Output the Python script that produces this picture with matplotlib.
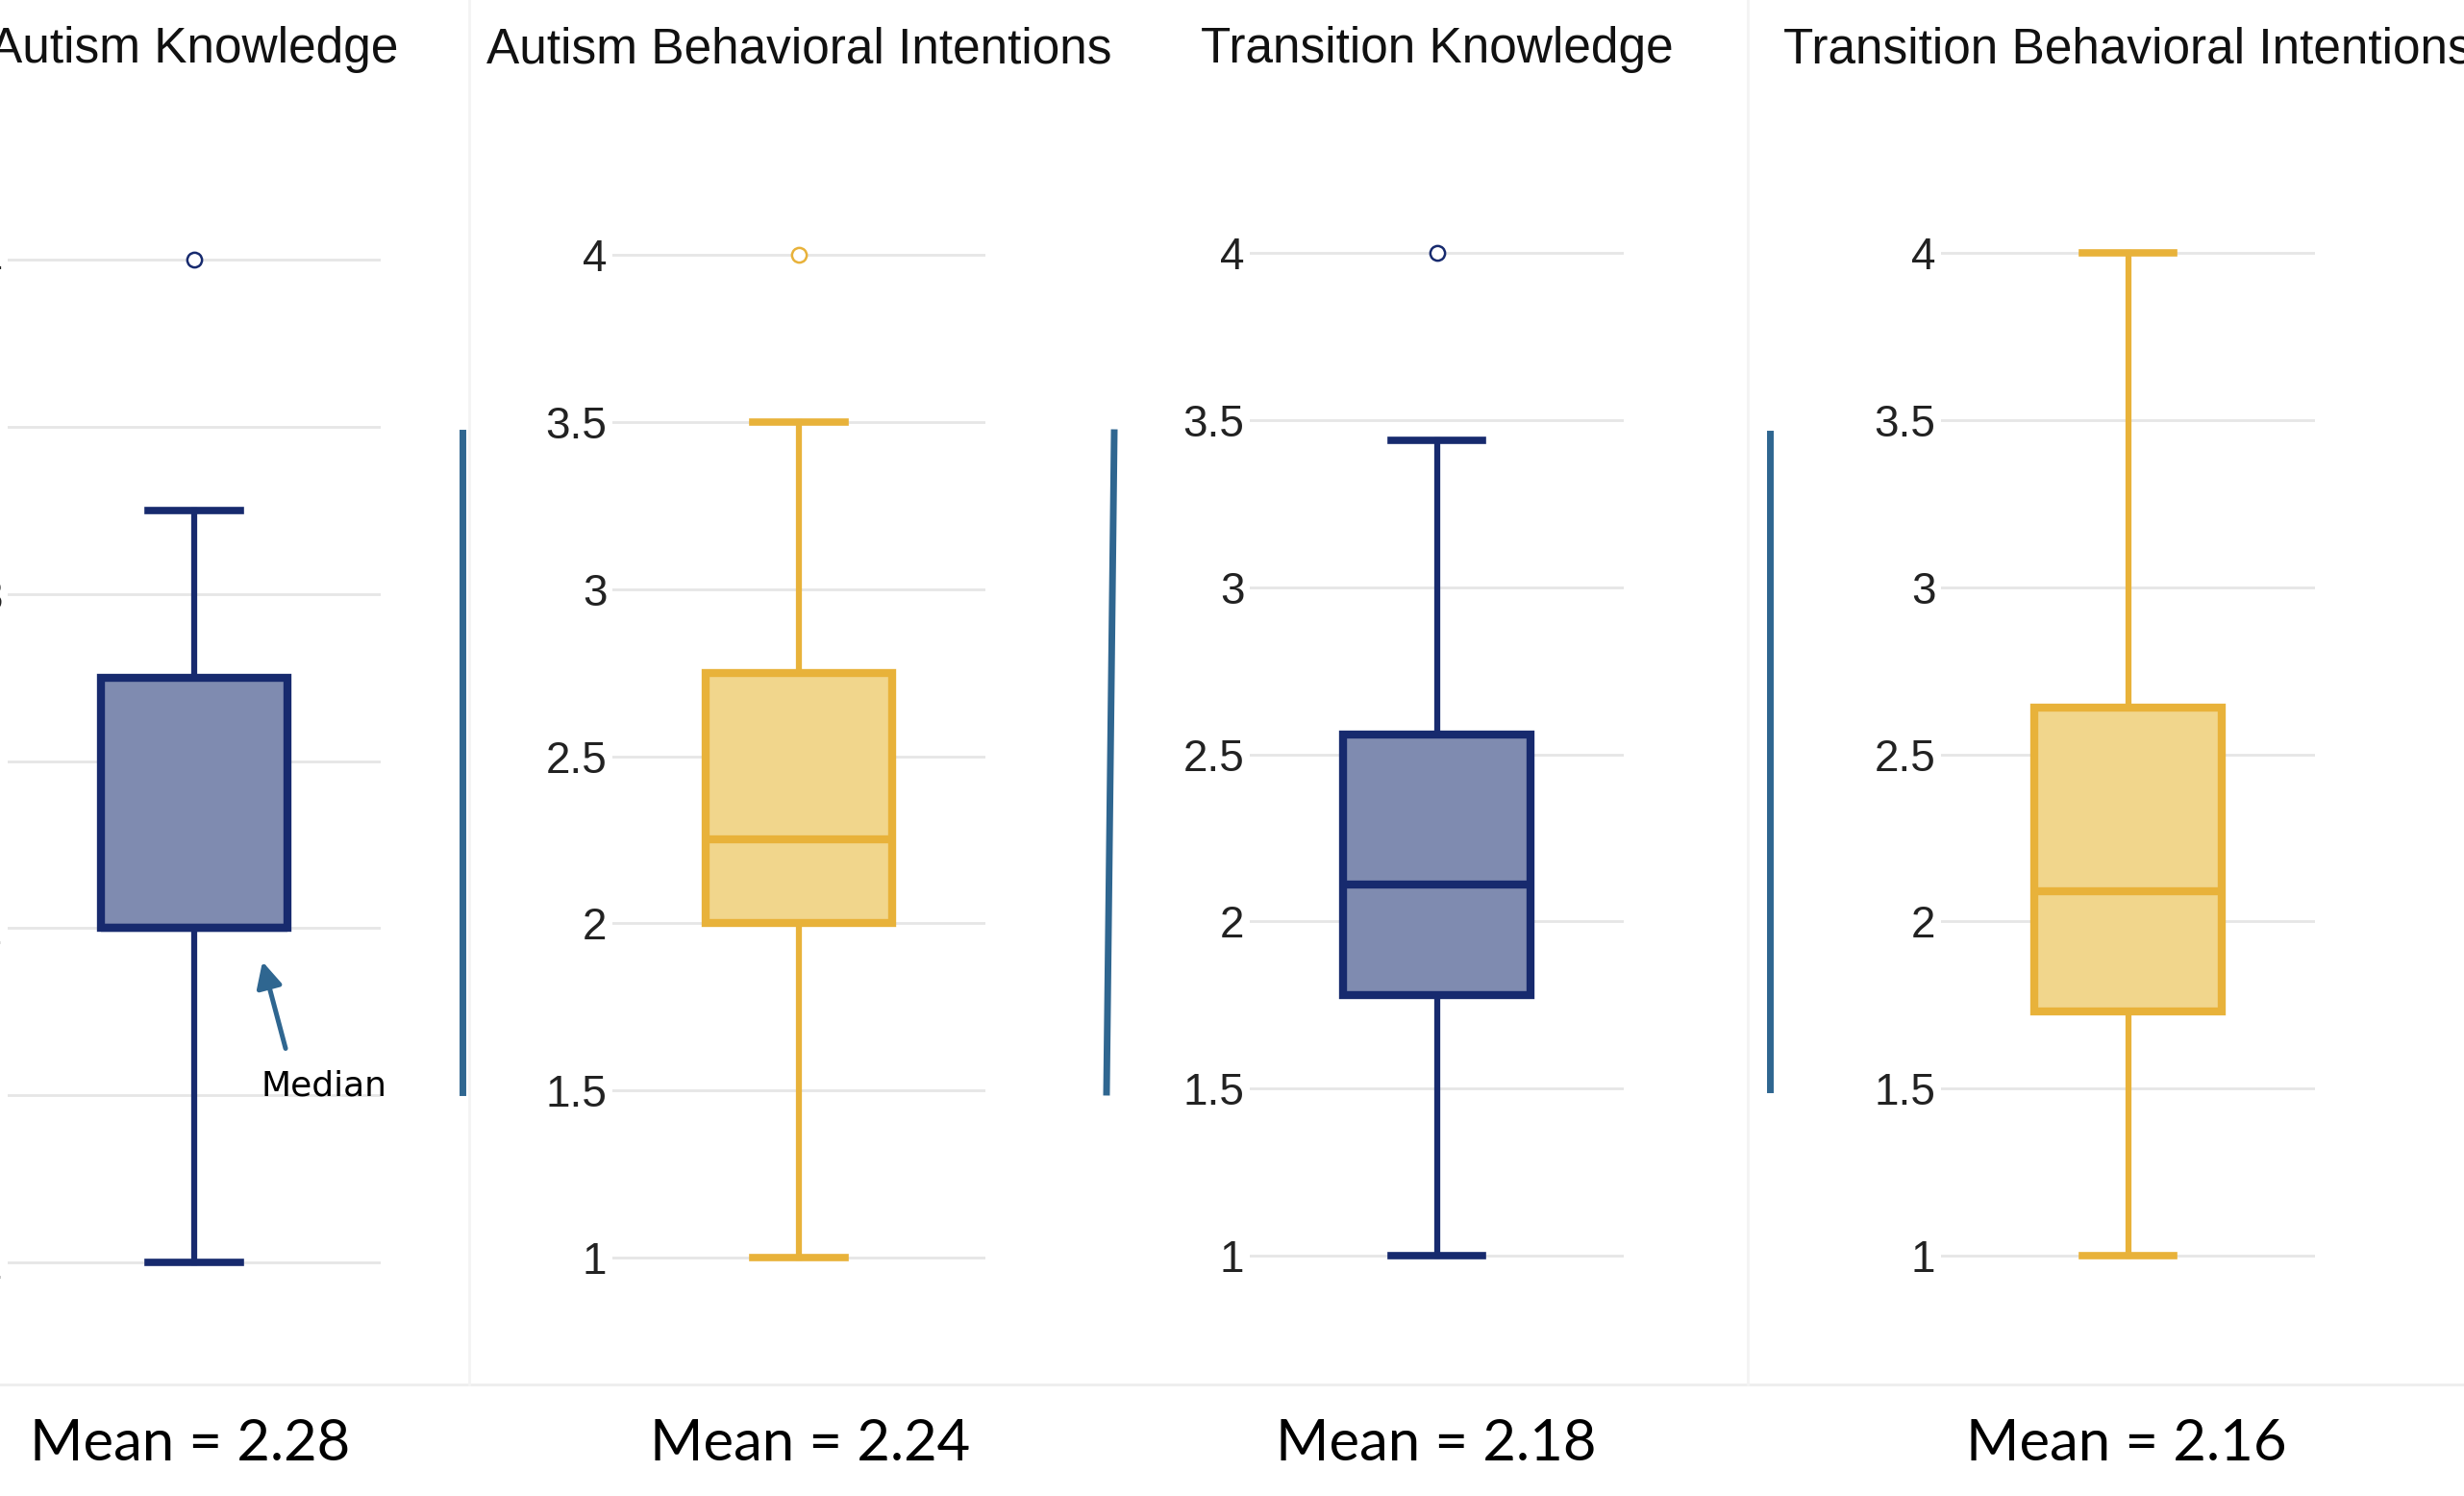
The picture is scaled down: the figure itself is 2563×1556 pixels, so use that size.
import matplotlib
matplotlib.use('Agg')
import matplotlib.pyplot as plt
from matplotlib.lines import Line2D

# ── Summary statistics for each scale ─────────────────────────────────────────
titles  = ['Autism Knowledge', 'Autism Behavioral Intentions',
           'Transition Knowledge', 'Transition Behavioral Intentions']
whislo  = [1.00, 1.00, 1.00, 1.00]
q1      = [2.00, 2.00, 1.78, 1.73]
medians = [2.00, 2.25, 2.11, 2.09]
q3      = [2.75, 2.75, 2.56, 2.64]
whishi  = [3.25, 3.50, 3.44, 4.00]
fliers  = [[4.0], [4.0], [4.0], []]
means   = [2.28, 2.24, 2.18, 2.16]

tick_vals   = [1, 1.5, 2, 2.5, 3, 3.5, 4]
tick_labels = ['1', '1.5', '2', '2.5', '3', '3.5', '4']

NAVY, NAVY_FILL = '#172a6e', '#7f8bb0'
GOLD, GOLD_FILL = '#e8b23a', '#f1d68c'
edge_colors = [NAVY, GOLD, NAVY, GOLD]
fill_colors = [NAVY_FILL, GOLD_FILL, NAVY_FILL, GOLD_FILL]
ACCENT = '#2f6690'

# ── Layout (pixels on a 2563 x 1556 canvas) ──────────────────────────────────
W, H = 2563, 1556
# left/right of gridlines, pixel row of y=4 and y=1
panels = [(8, 396, 270, 1313),
          (637, 1025, 265, 1308),
          (1300, 1689, 263, 1306),
          (2019, 2408, 263, 1306)]
mean_x = [198, 843, 1494, 2212]

fig = plt.figure(figsize=(W / 100, H / 100), dpi=100)
fig.patch.set_facecolor('white')

axes = []
for i, (xl, xr, y4, y1) in enumerate(panels):
    unit = (y1 - y4) / 3
    top = y4 - 0.3 * unit
    bot = y1 + 0.3 * unit
    ax = fig.add_axes([xl / W, 1 - bot / H, (xr - xl) / W, (bot - top) / H])
    ax.set_xlim(-0.5, 0.5)
    ax.set_ylim(0.7, 4.3)

    stats = [dict(whislo=whislo[i], q1=q1[i], med=medians[i], q3=q3[i],
                  whishi=whishi[i], fliers=fliers[i])]
    ec = edge_colors[i]
    ax.bxp(stats, positions=[0], widths=0.5, capwidths=0.245,
           patch_artist=True, showfliers=True,
           boxprops=dict(facecolor=fill_colors[i], edgecolor=ec, linewidth=6),
           medianprops=dict(color=ec, linewidth=6),
           whiskerprops=dict(color=ec, linewidth=4.5),
           capprops=dict(color=ec, linewidth=5.5),
           flierprops=dict(marker='o', markerfacecolor='white',
                           markeredgecolor=ec, markersize=11,
                           markeredgewidth=1.8))

    ax.set_yticks(tick_vals)
    ax.set_yticklabels(tick_labels, family='Liberation Sans', fontsize=33,
                       color='#222222')
    ax.set_xticks([])
    ax.tick_params(axis='y', length=0, pad=4)
    ax.grid(axis='y', color='#e6e6e6', linewidth=2)
    ax.set_axisbelow(True)
    for s in ax.spines.values():
        s.set_visible(False)
    ax.patch.set_alpha(0)
    axes.append(ax)

    cx = (xl + xr) / 2
    fig.text(cx / W, 1 - 65 / H, titles[i], family='Liberation Sans',
             fontsize=37, color='#111111', ha='center', va='baseline')
    fig.text(mean_x[i] / W, 1 - 1519 / H, f'Mean = {means[i]:.2f}',
             family='Lato', fontsize=43, color='black',
             ha='center', va='baseline')

# median callout on the first panel
ax0 = axes[0]
ax0.annotate('', xy=(0.183, 1.90), xytext=(0.245, 1.64),
             arrowprops=dict(arrowstyle='-|>', lw=3.6, color=ACCENT,
                             mutation_scale=40, shrinkA=0, shrinkB=0),
             annotation_clip=False)
ax0.text(0.178, 1.527, 'Median', family='DejaVu Sans', fontsize=26,
         color='black', ha='left', va='center', clip_on=False)

# faint panel frames
def fig_line(x0, y0, x1, y1, **kw):
    fig.add_artist(Line2D([x0 / W, x1 / W], [1 - y0 / H, 1 - y1 / H],
                          transform=fig.transFigure, **kw))

fig_line(0, 1440, W, 1440, color='#eeeeee', linewidth=2)
fig_line(488, 0, 488, 1440, color='#f3f3f3', linewidth=2)
fig_line(1818, 0, 1818, 1440, color='#f3f3f3', linewidth=2)

# separators between panels
fig_line(481, 450, 481, 1136, color=ACCENT, linewidth=5)
fig_line(1159, 450, 1151, 1136, color=ACCENT, linewidth=5)
fig_line(1841, 451, 1841, 1133, color=ACCENT, linewidth=5)

fig.savefig('out.png', dpi=100, facecolor='white')
